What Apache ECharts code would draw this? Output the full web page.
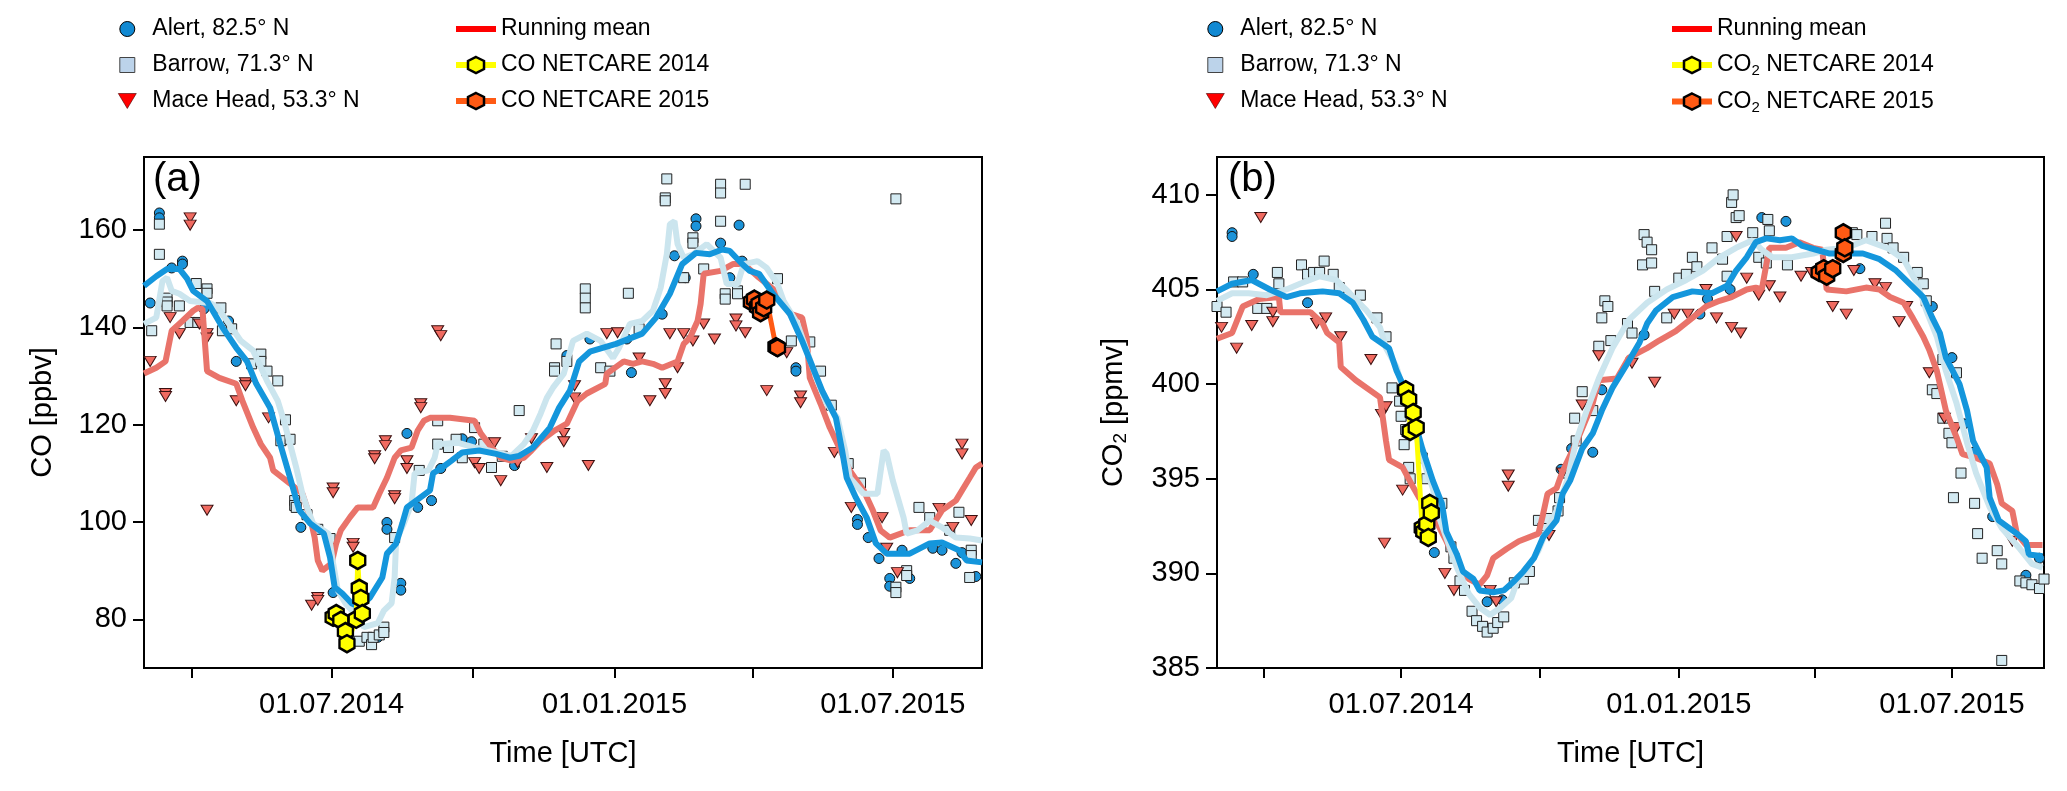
<!DOCTYPE html>
<html>
<head>
<meta charset="utf-8">
<script src="https://cdn.jsdelivr.net/npm/echarts@6.0.0/dist/echarts.min.js"></script>
<style>
  html, body { margin: 0; padding: 0; background: #fff; }
  #chart { width: 2067px; height: 791px; }
</style>
</head>
<body>
<div id="chart"></div>
<script>
// ---- tick positions ----
const xTickDates = ['2014-04-01', '2014-07-01', '2014-10-01', '2015-01-01', '2015-04-01', '2015-07-01']
const xLabelDates = ['2014-07-01', '2015-01-01', '2015-07-01']
const coTicks = [80, 100, 120, 140, 160]
const co2Ticks = [385, 390, 395, 400, 405, 410]

// ---- (a) CO ----
const coAlertPts = [
  ['2014-03-05', 145], ['2014-03-11', 163.5], ['2014-03-11', 162.5], ['2014-03-19', 152.2], ['2014-03-26', 153.6],
  ['2014-03-26', 153], ['2014-04-09', 143.8], ['2014-04-25', 141.3], ['2014-04-30', 133], ['2014-06-11', 98.9],
  ['2014-07-02', 85.5], ['2014-07-31', 76.3], ['2014-08-06', 99.9], ['2014-08-06', 98.5], ['2014-08-15', 87.4],
  ['2014-08-15', 86], ['2014-08-19', 118.2], ['2014-08-26', 103], ['2014-09-04', 104.4], ['2014-09-10', 111],
  ['2014-09-24', 117.1], ['2014-09-30', 116.5], ['2014-10-28', 111.6], ['2014-12-01', 134.2], ['2014-12-16', 137.6],
  ['2015-01-09', 137.6], ['2015-01-12', 130.7], ['2015-02-01', 142.7], ['2015-02-09', 154.7], ['2015-02-16', 150.2],
  ['2015-02-23', 162.3], ['2015-02-23', 160.8], ['2015-03-11', 157.3], ['2015-03-17', 150.2], ['2015-03-23', 161],
  ['2015-03-25', 153.6], ['2015-04-29', 131.7], ['2015-04-29', 131], ['2015-06-08', 100.5], ['2015-06-08', 99.5],
  ['2015-06-15', 96.8], ['2015-06-22', 92.5], ['2015-06-29', 88.4], ['2015-06-29', 86.8], ['2015-07-07', 94.2],
  ['2015-07-12', 88.4], ['2015-07-27', 94.6], ['2015-08-02', 94.2], ['2015-08-11', 91.5], ['2015-08-15', 93.7],
  ['2015-08-24', 88.8]
]
const coBarrowPts = [
  ['2014-03-06', 139.3], ['2014-03-11', 161.2], ['2014-03-11', 155], ['2014-03-16', 146], ['2014-03-16', 145.2],
  ['2014-03-16', 144.4], ['2014-03-24', 144.4], ['2014-03-31', 141], ['2014-04-04', 149], ['2014-04-05', 141],
  ['2014-04-11', 147.9], ['2014-04-11', 147], ['2014-04-20', 144], ['2014-04-21', 139.3], ['2014-04-27', 139.7],
  ['2014-05-10', 132.5], ['2014-05-16', 134.5], ['2014-05-16', 133], ['2014-05-20', 131], ['2014-05-27', 129],
  ['2014-05-29', 116.7], ['2014-06-01', 121], ['2014-06-04', 117], ['2014-06-07', 104.4], ['2014-06-07', 103.4],
  ['2014-06-08', 103], ['2014-06-15', 101.5], ['2014-06-22', 98.5], ['2014-06-30', 96.6], ['2014-07-19', 75.5],
  ['2014-07-24', 76.3], ['2014-07-27', 74.8], ['2014-07-28', 76.3], ['2014-08-01', 76.8], ['2014-08-04', 78.4],
  ['2014-08-04', 77.3], ['2014-08-11', 96.8], ['2014-08-27', 110.6], ['2014-09-08', 116], ['2014-09-08', 120.8],
  ['2014-09-15', 115.3], ['2014-09-20', 117], ['2014-09-24', 113.2], ['2014-10-02', 119.4], ['2014-10-08', 116],
  ['2014-10-13', 111.2], ['2014-10-20', 113.5], ['2014-10-31', 122.9], ['2014-11-23', 131.7], ['2014-11-23', 131],
  ['2014-11-24', 136.6], ['2014-12-01', 133], ['2014-12-13', 147.9], ['2014-12-13', 146], ['2014-12-13', 144],
  ['2014-12-23', 131.7], ['2014-12-29', 131], ['2015-01-10', 147], ['2015-01-17', 139.7], ['2015-02-03', 166.6],
  ['2015-02-03', 166], ['2015-02-04', 170.5], ['2015-02-15', 150.2], ['2015-02-21', 158.4], ['2015-02-21', 157.3],
  ['2015-02-28', 152], ['2015-03-11', 169.4], ['2015-03-11', 167.6], ['2015-03-11', 161.8], ['2015-03-14', 146.9],
  ['2015-03-14', 145.8], ['2015-03-22', 147.5], ['2015-03-22', 146.9], ['2015-03-27', 169.4], ['2015-04-17', 150],
  ['2015-04-26', 137.2], ['2015-05-08', 137], ['2015-05-15', 131], ['2015-05-22', 124], ['2015-06-02', 112],
  ['2015-06-10', 108], ['2015-07-03', 166.4], ['2015-07-03', 86.6], ['2015-07-03', 85.5], ['2015-07-10', 90],
  ['2015-07-10', 89], ['2015-07-18', 103], ['2015-07-25', 100.9], ['2015-08-07', 98.3], ['2015-08-13', 102],
  ['2015-08-20', 88.6], ['2015-08-21', 94.2], ['2015-08-21', 93.1]
]
const coMacePts = [
  ['2014-03-05', 133], ['2014-03-15', 126.4], ['2014-03-15', 125.8], ['2014-03-18', 142], ['2014-03-24', 138.7],
  ['2014-03-31', 162.5], ['2014-03-31', 161], ['2014-04-06', 140.7], ['2014-04-11', 138.7], ['2014-04-11', 137.8],
  ['2014-04-11', 102.4], ['2014-04-30', 124.9], ['2014-05-06', 128.6], ['2014-05-06', 128], ['2014-05-21', 121.4],
  ['2014-06-18', 82.9], ['2014-06-22', 84.5], ['2014-06-22', 83.9], ['2014-07-02', 107], ['2014-07-02', 106],
  ['2014-07-15', 95.6], ['2014-07-15', 94.8], ['2014-07-29', 113.6], ['2014-07-29', 113], ['2014-08-05', 116.7],
  ['2014-08-05', 115.7], ['2014-08-11', 105.4], ['2014-08-11', 104.8], ['2014-08-19', 112.6], ['2014-08-19', 111],
  ['2014-08-28', 124.3], ['2014-08-28', 123.5], ['2014-09-08', 139.3], ['2014-09-10', 138.3], ['2014-10-02', 112.2],
  ['2014-10-05', 111], ['2014-10-15', 116.3], ['2014-10-19', 108.5], ['2014-10-30', 112.2], ['2014-11-08', 117.1],
  ['2014-11-18', 111.2], ['2014-11-29', 118.2], ['2014-11-29', 116.5], ['2014-12-06', 128], ['2014-12-06', 125.5],
  ['2014-12-15', 111.6], ['2014-12-27', 138.7], ['2015-01-03', 138.9], ['2015-01-17', 133.7], ['2015-01-24', 124.9],
  ['2015-02-03', 128.4], ['2015-02-03', 126.4], ['2015-02-06', 138.7], ['2015-02-11', 131.7], ['2015-02-15', 138.7],
  ['2015-02-21', 137.2], ['2015-02-28', 140.7], ['2015-03-07', 137.6], ['2015-03-21', 141.7], ['2015-03-21', 140.3],
  ['2015-03-27', 138.9], ['2015-04-10', 127], ['2015-04-23', 134.8], ['2015-05-02', 125.9], ['2015-05-02', 124.5],
  ['2015-05-24', 114.3], ['2015-06-04', 103], ['2015-06-24', 100.9], ['2015-06-27', 94.6], ['2015-07-04', 89.6],
  ['2015-07-31', 102.8], ['2015-08-09', 98.9], ['2015-08-15', 116], ['2015-08-15', 114], ['2015-08-21', 100.3]
]
const coAlertMean = [
  ['2014-03-01', 148.5], ['2014-03-09', 150.5], ['2014-03-16', 152], ['2014-03-24', 152], ['2014-03-29', 150],
  ['2014-04-02', 147.5], ['2014-04-11', 145.4], ['2014-04-21', 140], ['2014-04-30', 135.8], ['2014-05-07', 133],
  ['2014-05-13', 128.4], ['2014-05-22', 123.5], ['2014-05-28', 116.7], ['2014-06-04', 109.1], ['2014-06-10', 102.4],
  ['2014-06-17', 99.7], ['2014-06-26', 97.6], ['2014-06-30', 92.7], ['2014-07-03', 86.6], ['2014-07-08', 85.3],
  ['2014-07-14', 83.3], ['2014-07-19', 82.5], ['2014-07-26', 84.5], ['2014-08-03', 88.6], ['2014-08-06', 93.5],
  ['2014-08-12', 95.6], ['2014-08-16', 99.7], ['2014-08-19', 103], ['2014-08-25', 104.4], ['2014-09-03', 106.5],
  ['2014-09-05', 110], ['2014-09-11', 111.2], ['2014-09-17', 112.6], ['2014-09-24', 114.3], ['2014-10-05', 114.7],
  ['2014-10-16', 114], ['2014-10-25', 113.2], ['2014-10-31', 113.6], ['2014-11-09', 115.3], ['2014-11-20', 119.4],
  ['2014-11-26', 123.5], ['2014-12-03', 127], ['2014-12-09', 133], ['2014-12-16', 135], ['2015-01-02', 136.6],
  ['2015-01-19', 138.7], ['2015-01-28', 142], ['2015-02-06', 146.9], ['2015-02-14', 153], ['2015-02-23', 155.3],
  ['2015-03-04', 155], ['2015-03-12', 156], ['2015-03-17', 155.7], ['2015-03-25', 153], ['2015-03-30', 151.6],
  ['2015-04-05', 151], ['2015-04-14', 146.9], ['2015-04-25', 142.8], ['2015-05-03', 137.2], ['2015-05-10', 131.7],
  ['2015-05-16', 127], ['2015-05-25', 121.4], ['2015-05-29', 114.7], ['2015-06-01', 109.1], ['2015-06-07', 105],
  ['2015-06-14', 100.9], ['2015-06-20', 95.6], ['2015-06-27', 93.5], ['2015-07-12', 93.5], ['2015-07-25', 95.6],
  ['2015-08-02', 95.8], ['2015-08-13', 94.2], ['2015-08-18', 92.1], ['2015-08-28', 91.7]
]
const coBarrowMean = [
  ['2014-03-01', 140.7], ['2014-03-09', 142], ['2014-03-13', 149.5], ['2014-03-16', 150.2], ['2014-03-19', 147.5],
  ['2014-03-24', 146.9], ['2014-03-31', 145.4], ['2014-04-13', 145], ['2014-04-18', 144], ['2014-04-24', 141.3],
  ['2014-05-03', 137.2], ['2014-05-11', 135.2], ['2014-05-20', 129], ['2014-05-27', 124.9], ['2014-05-31', 120.8],
  ['2014-06-04', 116], ['2014-06-08', 111.2], ['2014-06-12', 105.8], ['2014-06-15', 103], ['2014-06-19', 99.7],
  ['2014-06-29', 97.6], ['2014-07-02', 91.5], ['2014-07-05', 86], ['2014-07-10', 83.3], ['2014-07-18', 80.4],
  ['2014-07-22', 78.4], ['2014-07-31', 79.2], ['2014-08-04', 81.8], ['2014-08-09', 83.3], ['2014-08-11', 88.6],
  ['2014-08-12', 96.2], ['2014-08-17', 99.7], ['2014-08-22', 103.8], ['2014-08-24', 110], ['2014-09-02', 110.6],
  ['2014-09-06', 113.2], ['2014-09-08', 116], ['2014-09-21', 116.3], ['2014-10-02', 115.3], ['2014-10-11', 114.7],
  ['2014-10-26', 113.6], ['2014-11-03', 116], ['2014-11-09', 118.8], ['2014-11-14', 122.3], ['2014-11-18', 125.5],
  ['2014-11-22', 127.6], ['2014-11-29', 130.5], ['2014-12-05', 137.2], ['2014-12-14', 138.7], ['2014-12-23', 137.2],
  ['2014-12-31', 133.7], ['2015-01-04', 135.8], ['2015-01-11', 140.7], ['2015-01-19', 141.3], ['2015-01-26', 143.4],
  ['2015-01-31', 148.1], ['2015-02-04', 155], ['2015-02-06', 161.2], ['2015-02-09', 161.8], ['2015-02-11', 157.1],
  ['2015-02-15', 154.3], ['2015-02-21', 155], ['2015-03-02', 157.1], ['2015-03-11', 154.3], ['2015-03-15', 148.9],
  ['2015-03-22', 148.9], ['2015-03-26', 153], ['2015-04-04', 153.6], ['2015-04-10', 152.2], ['2015-04-17', 148.9],
  ['2015-04-21', 145.4], ['2015-04-30', 140.7], ['2015-05-06', 135.2], ['2015-05-13', 129], ['2015-05-19', 124.3],
  ['2015-05-26', 121.4], ['2015-05-31', 114.7], ['2015-06-03', 109.1], ['2015-06-12', 105.8], ['2015-06-21', 105.8],
  ['2015-06-25', 114.7], ['2015-06-27', 114], ['2015-07-01', 108.5], ['2015-07-08', 100.9], ['2015-07-10', 97.6],
  ['2015-07-17', 98.3], ['2015-07-25', 100.3], ['2015-08-02', 98.9], ['2015-08-11', 96.8], ['2015-08-20', 96.6],
  ['2015-08-28', 96.2]
]
const coMaceMean = [
  ['2014-03-01', 130.5], ['2014-03-09', 131.7], ['2014-03-15', 133], ['2014-03-19', 139.3], ['2014-03-26', 141.3],
  ['2014-04-02', 143.4], ['2014-04-05', 144], ['2014-04-08', 143.8], ['2014-04-11', 131], ['2014-04-19', 129.6],
  ['2014-04-30', 128.4], ['2014-05-04', 124.9], ['2014-05-11', 119.4], ['2014-05-16', 116], ['2014-05-22', 113.2],
  ['2014-05-24', 110.6], ['2014-06-04', 107.9], ['2014-06-12', 105.8], ['2014-06-17', 101], ['2014-06-20', 96.8],
  ['2014-06-22', 92.1], ['2014-06-25', 90], ['2014-07-01', 91.5], ['2014-07-04', 95.6], ['2014-07-07', 98.3],
  ['2014-07-13', 101], ['2014-07-18', 103], ['2014-07-28', 103], ['2014-08-01', 105.8], ['2014-08-06', 109.1],
  ['2014-08-11', 113.2], ['2014-08-15', 114.7], ['2014-08-22', 115.3], ['2014-08-26', 118.8], ['2014-08-30', 120.8],
  ['2014-09-03', 121.4], ['2014-09-16', 121.4], ['2014-10-02', 120.8], ['2014-10-06', 118.2], ['2014-10-13', 115.3],
  ['2014-10-19', 113.2], ['2014-10-26', 112.6], ['2014-11-03', 113.2], ['2014-11-08', 114.7], ['2014-11-14', 116.7],
  ['2014-11-23', 118.8], ['2014-12-01', 120.2], ['2014-12-08', 124.9], ['2014-12-14', 126.4], ['2014-12-26', 128.4],
  ['2014-12-27', 130.5], ['2015-01-07', 133], ['2015-01-13', 132.5], ['2015-01-19', 133], ['2015-01-26', 132.5],
  ['2015-02-01', 131.7], ['2015-02-11', 133], ['2015-02-15', 136.6], ['2015-02-19', 137.8], ['2015-02-24', 141.3],
  ['2015-02-26', 144.8], ['2015-02-28', 151], ['2015-03-11', 151.6], ['2015-03-19', 153], ['2015-03-26', 153],
  ['2015-04-05', 150.2], ['2015-04-18', 146.9], ['2015-04-25', 142.8], ['2015-05-03', 142], ['2015-05-06', 137.8],
  ['2015-05-08', 129.6], ['2015-05-15', 124.3], ['2015-05-21', 119.4], ['2015-05-28', 114.7], ['2015-06-03', 110.6],
  ['2015-06-12', 106.5], ['2015-06-18', 102.4], ['2015-06-23', 98.3], ['2015-06-29', 96.8], ['2015-07-12', 98.3],
  ['2015-07-25', 98.3], ['2015-08-02', 102.4], ['2015-08-11', 104.4], ['2015-08-20', 109.1], ['2015-08-24', 111.2],
  ['2015-08-28', 112]
]
const coNet2014 = [
  ['2014-07-02', 80.4], ['2014-07-04', 81.2], ['2014-07-07', 79.8], ['2014-07-10', 77.5], ['2014-07-11', 75],
  ['2014-07-17', 80], ['2014-07-18', 92.1], ['2014-07-19', 86.4], ['2014-07-20', 84.3], ['2014-07-21', 81.2]
]
const coNet2015 = [
  ['2015-03-31', 145.2], ['2015-04-02', 145.8], ['2015-04-04', 144.2], ['2015-04-05', 144.8], ['2015-04-06', 143],
  ['2015-04-08', 144], ['2015-04-10', 145.6], ['2015-04-16', 136], ['2015-04-17', 135.8]
]

// ---- (b) CO2 ----
const co2AlertPts = [
  ['2014-03-11', 408], ['2014-03-11', 407.8], ['2014-03-25', 405.8], ['2014-04-30', 404.3], ['2014-07-23', 391.1],
  ['2014-08-27', 388.5], ['2014-09-06', 388.6], ['2014-10-15', 395.5], ['2014-10-22', 396.6], ['2014-11-05', 396.4],
  ['2014-11-11', 399.7], ['2014-12-09', 402.6], ['2015-01-15', 403.7], ['2015-01-20', 404.5], ['2015-02-04', 405],
  ['2015-02-25', 408.8], ['2015-03-13', 408.6], ['2015-05-01', 406.1], ['2015-06-18', 404.1], ['2015-07-01', 401.4],
  ['2015-07-09', 397.9], ['2015-07-15', 396.4], ['2015-07-28', 393], ['2015-08-19', 389.9], ['2015-08-28', 390.8]
]
const co2BarrowPts = [
  ['2014-03-01', 404.1], ['2014-03-07', 403.8], ['2014-03-12', 405.4], ['2014-03-18', 405.4], ['2014-03-28', 404],
  ['2014-04-03', 404], ['2014-04-10', 405.9], ['2014-04-11', 405.3], ['2014-04-26', 406.3], ['2014-04-30', 405.8],
  ['2014-05-04', 405.9], ['2014-05-08', 405.9], ['2014-05-11', 406.5], ['2014-05-17', 405.8], ['2014-05-21', 405.1],
  ['2014-06-04', 404.7], ['2014-06-15', 403.5], ['2014-06-21', 402.5], ['2014-06-25', 399.8], ['2014-06-30', 399.1],
  ['2014-07-01', 398.3], ['2014-07-03', 396.8], ['2014-07-04', 397.6], ['2014-07-06', 395.6], ['2014-07-07', 395],
  ['2014-07-15', 396.1], ['2014-07-18', 395], ['2014-07-28', 393.7], ['2014-08-03', 391.4], ['2014-08-05', 390.8],
  ['2014-08-09', 389.6], ['2014-08-12', 389.1], ['2014-08-17', 388], ['2014-08-20', 387.5], ['2014-08-24', 387.2],
  ['2014-08-27', 386.9], ['2014-08-31', 387.1], ['2014-09-03', 387.4], ['2014-09-07', 387.7], ['2014-09-14', 389.5],
  ['2014-09-20', 389.7], ['2014-09-24', 390.1], ['2014-09-30', 392.8], ['2014-10-03', 392.4], ['2014-10-06', 392.9],
  ['2014-10-13', 393.3], ['2014-10-14', 394], ['2014-10-18', 395.3], ['2014-10-24', 398.2], ['2014-10-25', 397],
  ['2014-10-29', 399.6], ['2014-11-05', 398.6], ['2014-11-09', 402], ['2014-11-11', 403.5], ['2014-11-13', 404.4],
  ['2014-11-15', 404.1], ['2014-11-17', 402.3], ['2014-11-28', 403.2], ['2014-12-01', 402.7], ['2014-12-08', 406.3],
  ['2014-12-09', 407.9], ['2014-12-11', 407.5], ['2014-12-14', 407.1], ['2014-12-14', 406.4], ['2014-12-16', 404.9],
  ['2014-12-24', 403.5], ['2015-01-01', 405.6], ['2015-01-06', 405.8], ['2015-01-10', 406.7], ['2015-01-13', 406.2],
  ['2015-01-23', 407.2], ['2015-01-30', 406.6], ['2015-02-02', 405.7], ['2015-02-02', 407.8], ['2015-02-05', 409.6],
  ['2015-02-06', 410], ['2015-02-08', 408.8], ['2015-02-10', 408.9], ['2015-02-19', 408], ['2015-02-23', 406.7],
  ['2015-02-28', 406.4], ['2015-03-01', 408.7], ['2015-03-02', 408.1], ['2015-03-14', 406.3], ['2015-04-26', 408],
  ['2015-04-29', 407.9], ['2015-05-09', 407.8], ['2015-05-18', 408.5], ['2015-05-19', 407.7], ['2015-05-23', 407.2],
  ['2015-05-30', 406.7], ['2015-06-08', 405.9], ['2015-06-12', 405.3], ['2015-06-14', 404.4], ['2015-06-18', 399.7],
  ['2015-06-21', 399.5], ['2015-06-25', 401.3], ['2015-06-25', 398.2], ['2015-06-29', 397.4], ['2015-07-01', 396.9],
  ['2015-07-02', 394], ['2015-07-04', 400.6], ['2015-07-07', 395.3], ['2015-07-16', 393.7], ['2015-07-18', 392.1],
  ['2015-07-21', 390.8], ['2015-07-31', 391.2], ['2015-08-03', 385.4], ['2015-08-03', 390.5], ['2015-08-15', 389.6],
  ['2015-08-19', 389.5], ['2015-08-23', 389.4], ['2015-08-28', 389.2], ['2015-08-31', 389.7]
]
const co2MacePts = [
  ['2014-03-04', 403], ['2014-03-14', 401.9], ['2014-03-24', 403.1], ['2014-03-30', 408.8], ['2014-04-07', 403.3],
  ['2014-04-07', 403.8], ['2014-05-06', 403.2], ['2014-05-12', 403.5], ['2014-05-22', 402.5], ['2014-06-11', 401.3],
  ['2014-06-18', 398.4], ['2014-06-20', 391.6], ['2014-06-21', 398.8], ['2014-07-02', 394.4], ['2014-07-30', 390],
  ['2014-08-05', 389.1], ['2014-08-29', 389.1], ['2014-09-02', 388.5], ['2014-09-10', 395.2], ['2014-09-10', 394.6],
  ['2014-10-07', 392], ['2014-10-16', 395.3], ['2014-10-29', 398.9], ['2014-11-09', 401.5], ['2014-12-01', 401.1],
  ['2014-12-16', 400.1], ['2014-12-29', 403.7], ['2015-01-07', 403.7], ['2015-01-19', 405], ['2015-01-26', 403.5],
  ['2015-02-05', 403], ['2015-02-08', 407.8], ['2015-02-11', 402.7], ['2015-02-15', 405.6], ['2015-02-23', 404.7],
  ['2015-03-02', 405.2], ['2015-03-09', 404.6], ['2015-03-23', 405.7], ['2015-03-30', 405.9], ['2015-04-13', 404.1],
  ['2015-04-22', 403.7], ['2015-04-27', 406], ['2015-05-11', 405.3], ['2015-05-18', 405.1], ['2015-05-27', 403.3],
  ['2015-06-01', 404.1], ['2015-06-16', 400.6], ['2015-06-26', 398.2], ['2015-07-04', 397.7], ['2015-08-10', 391.7]
]
const co2AlertMean = [
  ['2014-03-01', 404.9], ['2014-03-11', 405.3], ['2014-03-24', 405.5], ['2014-04-05', 405], ['2014-04-16', 404.6],
  ['2014-04-25', 404.8], ['2014-05-10', 404.9], ['2014-05-21', 404.8], ['2014-05-30', 404.3], ['2014-06-06', 403.4],
  ['2014-06-12', 402.5], ['2014-06-23', 401.9], ['2014-06-28', 400.7], ['2014-07-02', 400], ['2014-07-08', 398.6],
  ['2014-07-15', 396.6], ['2014-07-22', 394.9], ['2014-07-28', 393.7], ['2014-07-31', 392.2], ['2014-08-07', 391],
  ['2014-08-11', 390.1], ['2014-08-18', 389.7], ['2014-08-22', 389.1], ['2014-08-31', 389], ['2014-09-07', 389.1],
  ['2014-09-14', 389.6], ['2014-09-20', 390.1], ['2014-09-27', 390.8], ['2014-10-03', 391.9], ['2014-10-12', 392.8],
  ['2014-10-16', 394.2], ['2014-10-21', 394.9], ['2014-10-29', 396.6], ['2014-11-05', 397.4], ['2014-11-11', 398.6],
  ['2014-11-18', 399.8], ['2014-11-28', 401.1], ['2014-12-06', 402.2], ['2014-12-11', 403.2], ['2014-12-17', 403.9],
  ['2014-12-28', 404.6], ['2015-01-10', 404.9], ['2015-01-23', 404.8], ['2015-02-02', 405.2], ['2015-02-08', 406],
  ['2015-02-15', 406.7], ['2015-02-21', 407.5], ['2015-02-28', 407.7], ['2015-03-09', 407.6], ['2015-03-17', 407.7],
  ['2015-03-24', 407.3], ['2015-04-02', 407.1], ['2015-04-11', 406.9], ['2015-05-03', 406.9], ['2015-05-14', 406.6],
  ['2015-05-25', 406], ['2015-06-03', 405.3], ['2015-06-12', 404.6], ['2015-06-18', 403.5], ['2015-06-23', 402.7],
  ['2015-06-27', 401.4], ['2015-07-06', 400], ['2015-07-11', 398.6], ['2015-07-15', 397], ['2015-07-24', 395.6],
  ['2015-07-26', 394], ['2015-08-01', 392.8], ['2015-08-13', 392.1], ['2015-08-19', 391.7], ['2015-08-21', 391],
  ['2015-08-30', 390.9]
]
const co2BarrowMean = [
  ['2014-03-01', 404.4], ['2014-03-11', 404.8], ['2014-03-22', 404.8], ['2014-04-03', 404.7], ['2014-04-16', 405],
  ['2014-04-25', 405.3], ['2014-05-08', 405.7], ['2014-05-19', 405.5], ['2014-05-28', 404.8], ['2014-06-08', 403.9],
  ['2014-06-17', 403], ['2014-06-21', 401.9], ['2014-06-28', 400.9], ['2014-07-02', 399.8], ['2014-07-08', 398.4],
  ['2014-07-13', 396.6], ['2014-07-22', 394.5], ['2014-07-26', 393], ['2014-08-07', 390.3], ['2014-08-15', 388.9],
  ['2014-08-22', 388.2], ['2014-08-29', 387.8], ['2014-09-05', 388.2], ['2014-09-12', 388.7], ['2014-09-16', 389.6],
  ['2014-09-23', 390.3], ['2014-09-30', 391.2], ['2014-10-06', 392.4], ['2014-10-12', 393.3], ['2014-10-19', 394.9],
  ['2014-10-25', 397], ['2014-11-01', 398.6], ['2014-11-09', 400.3], ['2014-11-18', 401.9], ['2014-11-29', 403.4],
  ['2014-12-11', 404.3], ['2014-12-24', 405], ['2015-01-06', 405.5], ['2015-01-17', 406], ['2015-01-28', 406.7],
  ['2015-02-08', 407.2], ['2015-02-19', 407.6], ['2015-02-25', 407.1], ['2015-03-04', 406.7], ['2015-03-17', 406.7],
  ['2015-03-31', 406.9], ['2015-04-09', 407.1], ['2015-04-22', 407.2], ['2015-05-05', 407.6], ['2015-05-19', 407.2],
  ['2015-05-30', 406.6], ['2015-06-08', 405.3], ['2015-06-14', 403.9], ['2015-06-21', 402.5], ['2015-06-27', 400.7],
  ['2015-07-04', 399], ['2015-07-11', 396.9], ['2015-07-17', 395.3], ['2015-07-26', 393.5], ['2015-08-03', 392.4],
  ['2015-08-15', 391.3], ['2015-08-23', 390.5], ['2015-08-30', 390.3]
]
const co2MaceMean = [
  ['2014-03-01', 402.4], ['2014-03-11', 402.7], ['2014-03-18', 404.1], ['2014-03-29', 404.5], ['2014-04-11', 404.6],
  ['2014-04-12', 403.8], ['2014-05-02', 403.8], ['2014-05-10', 403.2], ['2014-05-13', 402.7], ['2014-05-21', 402.2],
  ['2014-05-22', 400.9], ['2014-06-01', 400.2], ['2014-06-17', 399.3], ['2014-06-21', 397], ['2014-06-23', 396],
  ['2014-07-02', 395.6], ['2014-07-08', 394.7], ['2014-07-13', 394], ['2014-07-24', 392.8], ['2014-07-31', 391.7],
  ['2014-08-07', 390.5], ['2014-08-15', 389.7], ['2014-08-22', 389.4], ['2014-08-27', 389.9], ['2014-08-31', 390.8],
  ['2014-09-09', 391.3], ['2014-09-17', 391.7], ['2014-09-30', 392.1], ['2014-10-03', 393.1], ['2014-10-06', 394.2],
  ['2014-10-12', 394.5], ['2014-10-16', 395.4], ['2014-10-25', 396.9], ['2014-11-05', 399], ['2014-11-09', 400.2],
  ['2014-11-21', 400.3], ['2014-11-29', 401.4], ['2014-12-11', 401.9], ['2014-12-19', 402.3], ['2014-12-30', 402.8],
  ['2015-01-10', 403.5], ['2015-01-19', 404.1], ['2015-01-28', 404.4], ['2015-02-05', 404.6], ['2015-02-15', 405],
  ['2015-02-21', 405.1], ['2015-02-25', 405], ['2015-03-02', 407.2], ['2015-03-13', 407.2], ['2015-03-22', 407.5],
  ['2015-03-31', 407.2], ['2015-04-06', 407.1], ['2015-04-09', 405], ['2015-04-22', 404.9], ['2015-05-05', 405.1],
  ['2015-05-14', 405], ['2015-05-21', 404.6], ['2015-05-30', 404.3], ['2015-06-05', 403.5], ['2015-06-12', 402.5],
  ['2015-06-16', 401.8], ['2015-06-21', 400.7], ['2015-06-27', 398.6], ['2015-07-04', 397.2], ['2015-07-08', 396.3],
  ['2015-07-17', 396.1], ['2015-07-26', 395.8], ['2015-07-31', 394.7], ['2015-08-03', 393.7], ['2015-08-10', 393.3],
  ['2015-08-13', 392.1], ['2015-08-19', 391.5], ['2015-08-30', 391.5]
]
const co2Net2014 = [
  ['2014-07-04', 399.7], ['2014-07-06', 399.2], ['2014-07-07', 397.5], ['2014-07-09', 398.5], ['2014-07-11', 397.7],
  ['2014-07-15', 392.4], ['2014-07-16', 392.2], ['2014-07-18', 392.6], ['2014-07-19', 391.9], ['2014-07-20', 393.7],
  ['2014-07-21', 393.2]
]
const co2Net2015 = [
  ['2015-04-04', 405.9], ['2015-04-07', 406.1], ['2015-04-09', 405.7], ['2015-04-13', 406.1], ['2015-04-20', 406.9],
  ['2015-04-20', 408], ['2015-04-21', 407.2]
]

// ---- helpers ----
const FONT = 'Liberation Sans, Arial, Helvetica, sans-serif'
const HEX = 'path://M5,0 L10,3 L10,9 L5,12 L0,9 L0,3 Z'
const TRI = 'path://M0,0 L12,0 L6,10 Z'
const SQUARE = 'path://M0,0 L10,0 L10,10 L0,10 Z'
const BAR = 'path://M0,0 L40,0 L40,6 L0,6 Z'
const N_ALERT = 'Alert, 82.5° N'
const N_BARROW = 'Barrow, 71.3° N'
const N_MACE = 'Mace Head, 53.3° N'
const N_MEAN = 'Running mean'

function toTime(s) {
  const p = s.split('-').map(Number)
  return new Date(p[0], p[1] - 1, p[2]).getTime()
}
function pad(n) { return n < 10 ? '0' + n : '' + n }
// date strings -> [timestamp, value] for the value-type x axis
function asXY(rows) { return rows.map(r => [toTime(r[0]), r[1]]) }

function xAxisFor(gi, maxDate) {
  return {
    type: 'value', gridIndex: gi,
    min: toTime('2014-03-01'), max: toTime(maxDate),
    axisLine: { show: true, onZero: false, lineStyle: { color: '#000', width: 2 } },
    axisTick: { show: true, customValues: xTickDates.map(toTime), length: 10, lineStyle: { color: '#000', width: 2 } },
    axisLabel: {
      customValues: xLabelDates.map(toTime), fontSize: 29, color: '#000', fontFamily: FONT, margin: 22,
      formatter: function (v) { const d = new Date(v); return pad(d.getDate()) + '.' + pad(d.getMonth() + 1) + '.' + d.getFullYear() }
    },
    splitLine: { show: false },
    name: 'Time [UTC]', nameLocation: 'middle', nameGap: 71,
    nameTextStyle: { fontSize: 29, color: '#000', fontFamily: FONT }
  }
}
function yAxisFor(gi, min, max, ticks, name) {
  return {
    type: 'value', gridIndex: gi, min: min, max: max,
    axisLine: { show: true, onZero: false, lineStyle: { color: '#000', width: 2 } },
    axisTick: { show: true, customValues: ticks, length: 11, lineStyle: { color: '#000', width: 2 } },
    axisLabel: { customValues: ticks, fontSize: 29, color: '#000', fontFamily: FONT, margin: 17 },
    splitLine: { show: false },
    name: name, nameLocation: 'middle', nameGap: 87,
    nameTextStyle: {
      fontSize: 29, color: '#000', fontFamily: FONT,
      rich: { s: { fontSize: 19, fontFamily: FONT, color: '#000', padding: [14, 0, 0, 0] } }
    }
  }
}
function pts(name, data, gi, symbol, size, color, border) {
  return {
    name: name, type: 'scatter', xAxisIndex: gi, yAxisIndex: gi, data: asXY(data),
    symbol: symbol, symbolSize: size,
    itemStyle: { color: color, borderColor: border, borderWidth: 1, opacity: 1 },
    z: 2
  }
}
function mean(data, gi, color) {
  return {
    name: N_MEAN, type: 'line', xAxisIndex: gi, yAxisIndex: gi, data: asXY(data),
    symbol: 'none', lineStyle: { color: color, width: 6 }, itemStyle: { color: color },
    z: 3
  }
}
function flight(name, data, gi, color) {
  return {
    name: name, type: 'line', xAxisIndex: gi, yAxisIndex: gi, data: asXY(data),
    symbol: HEX, symbolSize: [15, 17], showSymbol: true,
    lineStyle: { color: color, width: 5 },
    itemStyle: { color: color, borderColor: '#000', borderWidth: 2.5 },
    z: 5
  }
}
function siteLegend(left) {
  return {
    left: left, top: 11, orient: 'vertical', itemWidth: 40, itemHeight: 15, itemGap: 10,
    selectedMode: false, symbolKeepAspect: true,
    textStyle: { fontSize: 23, color: '#000', fontFamily: FONT, lineHeight: 26 },
    data: [
      { name: N_ALERT, icon: 'circle', itemStyle: { color: '#1189d2', borderColor: '#000', borderWidth: 1 } },
      { name: N_BARROW, icon: SQUARE, itemStyle: { color: '#bcd3ea', borderColor: '#444', borderWidth: 1 } },
      { name: N_MACE, icon: TRI, itemStyle: { color: '#ff0000', borderColor: '#400', borderWidth: 0.6 } }
    ]
  }
}
function lineLegend(left, n14, n15) {
  return {
    left: left, top: 11, orient: 'vertical', itemWidth: 40, itemHeight: 20, itemGap: 10,
    selectedMode: false, symbolKeepAspect: true,
    textStyle: {
      fontSize: 23, color: '#000', fontFamily: FONT, lineHeight: 26,
      rich: { s: { fontSize: 15, fontFamily: FONT, color: '#000', padding: [12, 0, 0, 0] } }
    },
    formatter: function (name) { return name.replace('CO2', 'CO{s|2}') },
    data: [
      { name: N_MEAN, icon: BAR, itemStyle: { color: '#ff0000', borderWidth: 0 } },
      { name: n14, lineStyle: { color: '#ffff00', width: 6 }, itemStyle: { color: '#ffff00', borderColor: '#000', borderWidth: 2.5 } },
      { name: n15, lineStyle: { color: '#ff5a14', width: 6 }, itemStyle: { color: '#ff5a14', borderColor: '#000', borderWidth: 2.5 } }
    ]
  }
}

var myChart = echarts.init(document.getElementById('chart'), null, { renderer: 'canvas' })

var option = {
  animation: false,
  backgroundColor: '#fff',
  textStyle: { fontFamily: FONT },
  title: [
    { text: '(a)', left: 153, top: 160, padding: 0, textStyle: { fontSize: 40, fontWeight: 'normal', color: '#000', fontFamily: FONT } },
    { text: '(b)', left: 1228, top: 160, padding: 0, textStyle: { fontSize: 40, fontWeight: 'normal', color: '#000', fontFamily: FONT } }
  ],
  legend: [
    siteLegend(113),
    lineLegend(448, 'CO NETCARE 2014', 'CO NETCARE 2015'),
    siteLegend(1201),
    lineLegend(1664, 'CO2 NETCARE 2014', 'CO2 NETCARE 2015')
  ],
  grid: [
    { left: 144, top: 157, width: 838, height: 511, show: true, borderColor: '#000', borderWidth: 2, backgroundColor: 'transparent', outerBoundsMode: 'none' },
    { left: 1217, top: 157, width: 827, height: 511, show: true, borderColor: '#000', borderWidth: 2, backgroundColor: 'transparent', outerBoundsMode: 'none' }
  ],
  xAxis: [xAxisFor(0, '2015-08-28'), xAxisFor(1, '2015-08-31')],
  yAxis: [
    yAxisFor(0, 70, 175, coTicks, 'CO [ppbv]'),
    yAxisFor(1, 385, 412, co2Ticks, 'CO{s|2} [ppmv]')
  ],
  series: [
    pts(N_ALERT, coAlertPts, 0, 'circle', 10, '#1b93d9', '#111'),
    pts(N_BARROW, coBarrowPts, 0, 'rect', 10, '#d3eaf2', '#222'),
    pts(N_MACE, coMacePts, 0, TRI, [12, 10], '#f06a60', '#3a1010'),
    mean(coMaceMean, 0, '#e9736a'),
    mean(coBarrowMean, 0, '#cbe5ee'),
    mean(coAlertMean, 0, '#1496dc'),
    flight('CO NETCARE 2014', coNet2014, 0, '#ffff00'),
    flight('CO NETCARE 2015', coNet2015, 0, '#ff5a14'),

    pts(N_ALERT, co2AlertPts, 1, 'circle', 10, '#1b93d9', '#111'),
    pts(N_BARROW, co2BarrowPts, 1, 'rect', 10, '#d3eaf2', '#222'),
    pts(N_MACE, co2MacePts, 1, TRI, [12, 10], '#f06a60', '#3a1010'),
    mean(co2MaceMean, 1, '#e9736a'),
    mean(co2BarrowMean, 1, '#cbe5ee'),
    mean(co2AlertMean, 1, '#1496dc'),
    flight('CO2 NETCARE 2014', co2Net2014, 1, '#ffff00'),
    flight('CO2 NETCARE 2015', co2Net2015, 1, '#ff5a14')
  ]
}

myChart.setOption(option)
</script>
</body>
</html>
